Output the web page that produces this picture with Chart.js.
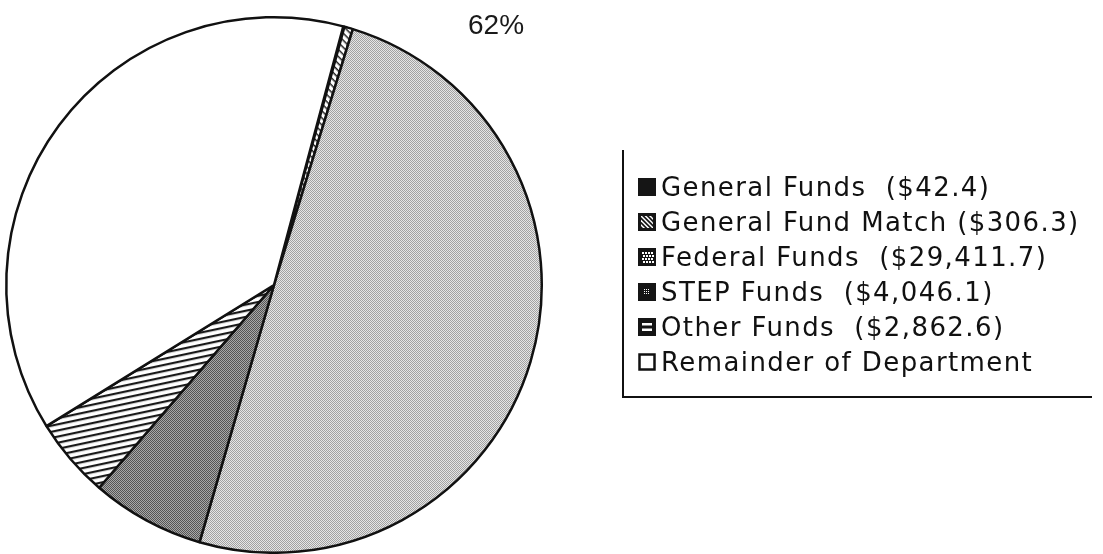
<!DOCTYPE html>
<html lang="en">
<head>
<meta charset="UTF-8">
<title>Department Funding</title>
<script src="https://cdn.jsdelivr.net/npm/chart.js"></script>
<style>
  body { margin: 0; background: #fff; font-family: "DejaVu Sans", sans-serif; }
  .wrap { position: relative; width: 1103px; height: 554px; overflow: hidden; }
  #pie { position: absolute; left: 0; top: 0; }
  .pct { position: absolute; left: 468px; top: 9px; font-family: "Liberation Sans", sans-serif; font-size: 28px; color: #1a1a1a; }
  .legend {
    position: absolute; left: 622px; top: 150px; width: 468px; height: 246px;
    border-left: 2px solid #111; border-bottom: 2px solid #111;
  }
  .row {
    position: absolute; left: 14px; height: 30px; display: flex; align-items: center;
    font-size: 26px; letter-spacing: 1.4px; white-space: pre; color: #111;
  }
  .row canvas { margin-right: 5px; }
</style>
</head>
<body>
<div class="wrap">
  <canvas id="pie" width="1103" height="554"></canvas>
  <div class="pct" id="pct"></div>
  <div class="legend" id="legend"></div>
</div>
<script>
  // data (amounts in thousands)
  const categories = ['General Funds', 'General Fund Match', 'Federal Funds', 'STEP Funds', 'Other Funds', 'Remainder of Department'];
  const amounts = [42.4, 306.3, 29411.7, 4046.1, 2862.6, 22475];
  const legendLabels = ['General Funds  ($42.4)', 'General Fund Match ($306.3)', 'Federal Funds  ($29,411.7)', 'STEP Funds  ($4,046.1)', 'Other Funds  ($2,862.6)', 'Remainder of Department'];
  const shareLabel = '62%';

  const helper = document.createElement('canvas').getContext('2d');

  function tile(w, h, draw) {
    const c = document.createElement('canvas');
    c.width = w; c.height = h;
    draw(c.getContext('2d'));
    return c;
  }

  function stripes(angle, period, line, bg, fg) {
    const t = tile(period, period, g => {
      g.fillStyle = bg; g.fillRect(0, 0, period, period);
      g.fillStyle = fg; g.fillRect(0, 0, period, line);
    });
    const p = helper.createPattern(t, 'repeat');
    p.setTransform(new DOMMatrix().rotate(angle));
    return p;
  }

  function checker(a, b) {
    const t = tile(2, 2, g => {
      g.fillStyle = a; g.fillRect(0, 0, 2, 2);
      g.fillStyle = b; g.fillRect(0, 0, 1, 1); g.fillRect(1, 1, 1, 1);
    });
    return helper.createPattern(t, 'repeat');
  }

  const fills = [
    '#111',
    stripes(45, 5, 1.5, '#fff', '#222'),
    checker('#e6e6e6', '#a2a2a2'),
    checker('#a8a8a8', '#555'),
    stripes(-12, 6, 2.2, '#fff', '#1a1a1a'),
    '#fff'
  ];

  new Chart(document.getElementById('pie'), {
    type: 'pie',
    data: {
      labels: categories,
      datasets: [{
        data: amounts,
        backgroundColor: fills,
        borderColor: '#111',
        borderWidth: 2.5,
        hoverOffset: 0
      }]
    },
    options: {
      responsive: false,
      animation: false,
      rotation: 15,
      layout: { padding: { left: 5, top: 16, right: 560, bottom: 0 } },
      plugins: { legend: { display: false }, tooltip: { enabled: false } }
    }
  });

  document.getElementById('pct').textContent = shareLabel;

  // legend swatches, drawn to look like the printed ones
  function drawSwatch(g, i, s) {
    if (i === 5) {
      g.fillStyle = '#fff'; g.fillRect(0, 0, s, s);
      g.strokeStyle = '#111'; g.lineWidth = 2.5; g.strokeRect(1.5, 1.5, s - 3, s - 3);
      return;
    }
    g.fillStyle = '#151515'; g.fillRect(0, 0, s, s);
    g.fillStyle = '#fff';
    if (i === 1) {
      g.save();
      g.beginPath(); g.rect(3, 3, s - 6, s - 6); g.clip();
      g.strokeStyle = '#fff'; g.lineWidth = 1.5;
      for (let k = -s; k < 2 * s; k += 4.5) { g.beginPath(); g.moveTo(k, 0); g.lineTo(k + s, s); g.stroke(); }
      g.restore();
    } else if (i === 2) {
      for (let y = 4; y < s - 3; y += 3) for (let x = 4 + (y % 2); x < s - 3; x += 3) g.fillRect(x, y, 2, 2);
    } else if (i === 3) {
      for (let y = 6; y < 12; y += 2) for (let x = 6 + (y % 2); x < 12; x += 2) g.fillRect(x, y, 1, 1);
    } else if (i === 4) {
      g.fillRect(4, 5, s - 8, 2.5); g.fillRect(4, 10.5, s - 8, 2.5);
    }
  }

  const legend = document.getElementById('legend');
  legendLabels.forEach((text, i) => {
    const row = document.createElement('div');
    row.className = 'row';
    row.style.top = (22 + i * 35) + 'px';
    const sw = document.createElement('canvas');
    sw.width = 18; sw.height = 18;
    drawSwatch(sw.getContext('2d'), i, 18);
    row.appendChild(sw);
    const span = document.createElement('span');
    span.textContent = text;
    row.appendChild(span);
    legend.appendChild(row);
  });
</script>
</body>
</html>
